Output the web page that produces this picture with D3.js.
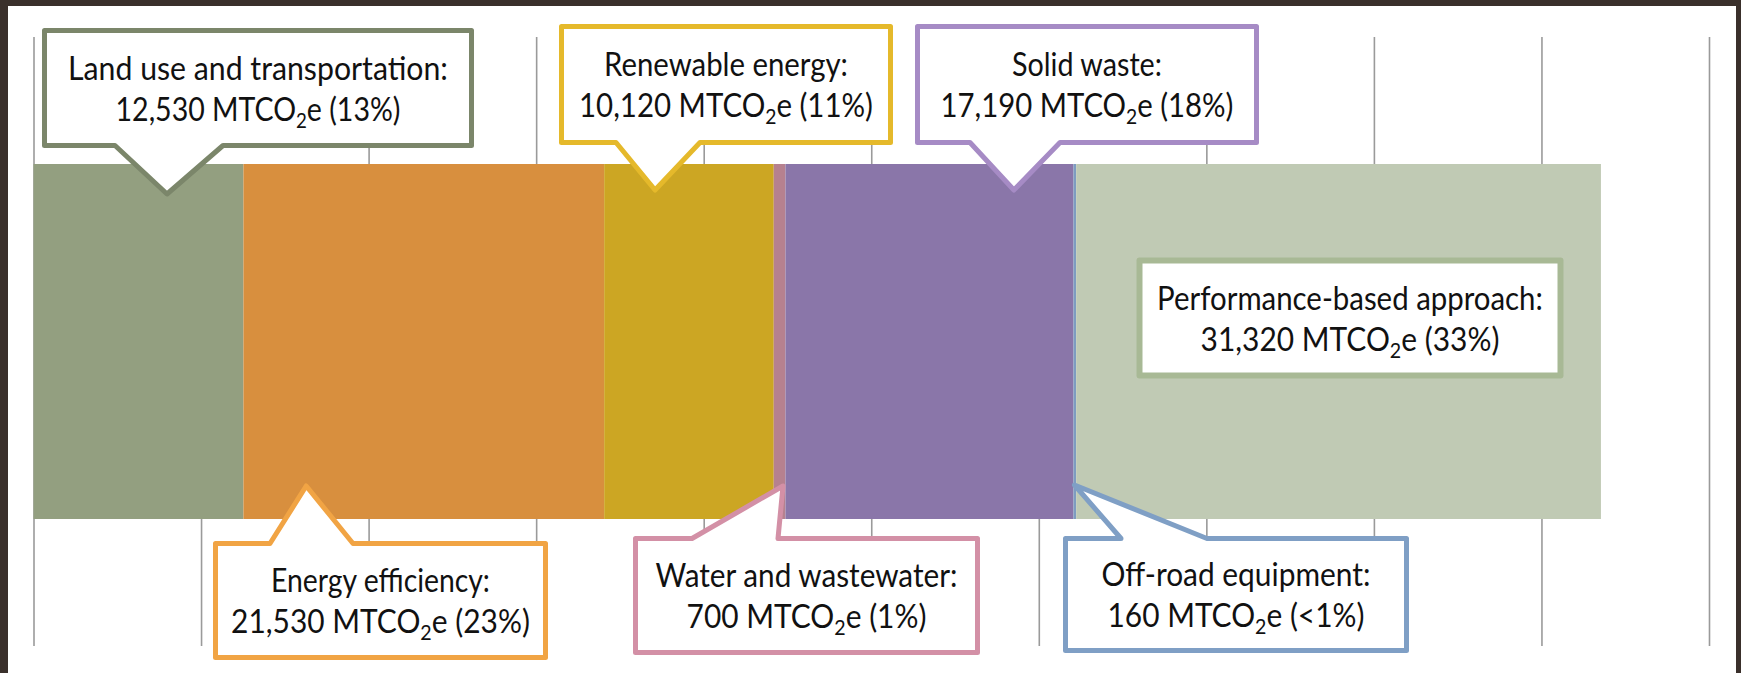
<!DOCTYPE html>
<html>
<head>
<meta charset="utf-8">
<script src="https://cdn.jsdelivr.net/npm/d3@7"></script>
<style>
  html, body { margin: 0; padding: 0; background: #ffffff; }
  svg { display: block; }
</style>
</head>
<body>
<svg id="chart" width="1741" height="673"></svg>
<script>
// ---------------- DATA ----------------
const categories = [
  "Land use and transportation",
  "Energy efficiency",
  "Renewable energy",
  "Water and wastewater",
  "Solid waste",
  "Off-road equipment",
  "Performance-based approach"
];
const values = [12530, 21530, 10120, 700, 17190, 160, 31320];
const percentLabels = ["13%", "23%", "11%", "1%", "18%", "<1%", "33%"];
const axisTicks = [0, 10000, 20000, 30000, 40000, 50000, 60000, 70000, 80000, 90000, 100000];

// ---------------- STYLE ----------------
const barColors = ["#939f80", "#d88f3e", "#cca623", "#b6818f", "#8a76a9", "#7e9cc0", "#c0cab4"];
const borderColors = ["#7b866a", "#f1a444", "#e5b92b", "#d390a6", "#a68bc5", "#7f9fc5", "#a8b995"];

// callout layout: outer box [left, top, right, bottom], pointer base x-range, tip position (fraction along segment, y)
const callouts = [
  {box: [42, 28, 474, 148],    side: "down", base: [115, 223],  tipFrac: 0.636, tipY: 197, w: [380, 285]},
  {box: [213, 541, 548, 660],  side: "up",   base: [270, 353],  tipFrac: 0.174, tipY: 483, w: [219, 299]},
  {box: [559, 24, 893, 145],   side: "down", base: [616, 700],  tipFrac: 0.30,  tipY: 193, w: [244, 294]},
  {box: [633, 536, 980, 655],  side: "up",   base: [692, 778],  tipFrac: 0.79,  tipY: 483, w: [302, 240]},
  {box: [915, 24, 1259, 145],  side: "down", base: [970, 1060], tipFrac: 0.793, tipY: 193, w: [150, 293]},
  {box: [1063, 536, 1409, 653],side: "up",   base: [1121, 1207],tipFrac: 0.37,  tipY: 482, w: [269, 257]},
  {box: [1137, 258, 1563, 378],side: "none", w: [386, 299]}
];

const svg = d3.select("#chart");

// frame
svg.append("rect").attr("x", 0).attr("y", 0).attr("width", 1741).attr("height", 6).attr("fill", "#3a302b");
svg.append("rect").attr("x", 0).attr("y", 0).attr("width", 8).attr("height", 673).attr("fill", "#3a302b");
svg.append("rect").attr("x", 1736).attr("y", 0).attr("width", 5).attr("height", 673).attr("fill", "#3a302b");

// scale
const x = d3.scaleLinear().domain([0, 100000]).range([33.5, 1709]);
const barTop = 164, barBottom = 519;
const gridTop = 37, gridBottom = 646;

// gridlines via axis
const axis = d3.axisBottom(x).tickValues(axisTicks).tickSize(gridBottom - gridTop).tickFormat("");
const g = svg.append("g").attr("transform", `translate(0,${gridTop})`).call(axis);
g.select(".domain").remove();
g.selectAll(".tick line").attr("stroke", "#9a9a9a").attr("stroke-width", 1.6);

// stacked segments
const starts = [];
values.reduce((acc, v, i) => { starts[i] = acc; return acc + v; }, 0);
const segs = values.map((v, i) => ({cat: categories[i], v, start: starts[i], i}));

svg.append("g").selectAll("rect").data(segs).join("rect")
  .attr("x", d => x(d.start))
  .attr("y", barTop)
  .attr("width", d => x(d.start + d.v) - x(d.start))
  .attr("height", barBottom - barTop)
  .attr("fill", d => barColors[d.i]);

// callouts
const fmt = d3.format(",");
const sw = 5, h = sw / 2;
const cg = svg.append("g");

segs.forEach(d => {
  const c = callouts[d.i];
  const [L, T, R, B] = c.box;
  const x0 = L + h, x1 = R - h, y0 = T + h, y1 = B - h;
  let p;
  if (c.side === "down") {
    const tx = x(d.start + c.tipFrac * d.v), ty = c.tipY - 3;
    p = `M${x0},${y0}H${x1}V${y1}H${c.base[1]}L${tx},${ty}L${c.base[0]},${y1}H${x0}Z`;
  } else if (c.side === "up") {
    const tx = x(d.start + c.tipFrac * d.v), ty = c.tipY + 3;
    p = `M${x0},${y0}H${c.base[0]}L${tx},${ty}L${c.base[1]},${y0}H${x1}V${y1}H${x0}Z`;
  } else {
    p = `M${x0},${y0}H${x1}V${y1}H${x0}Z`;
  }
  cg.append("path").attr("d", p)
    .attr("fill", "#ffffff")
    .attr("stroke", borderColors[d.i])
    .attr("stroke-width", d.i === 6 ? 6 : sw)
    .attr("stroke-linejoin", "round");

  const cx = (L + R) / 2, cy = (T + B) / 2;
  const t1 = cg.append("text")
    .attr("x", cx).attr("y", cy - 8)
    .attr("text-anchor", "middle")
    .attr("font-family", "Lato, 'Open Sans', sans-serif")
    .attr("font-size", 32)
    .attr("fill", "#111111")
    .text(d.cat + ":");
  const t2 = cg.append("text")
    .attr("x", cx).attr("y", cy + 33)
    .attr("text-anchor", "middle")
    .attr("font-family", "Lato, 'Open Sans', sans-serif")
    .attr("font-size", 32)
    .attr("fill", "#111111");
  t2.append("tspan").text(fmt(d.v) + " MTCO");
  t2.append("tspan").attr("font-size", 21).attr("dy", 7).text("2");
  t2.append("tspan").attr("dy", -7).text("e (" + percentLabels[d.i] + ")");

  [[t1, c.w[0]], [t2, c.w[1]]].forEach(([t, target]) => {
    const bw = t.node().getBBox().width;
    const s = target / bw;
    t.attr("transform", `translate(${cx},0) scale(${s},1) translate(${-cx},0)`);
  });
});
</script>
</body>
</html>
